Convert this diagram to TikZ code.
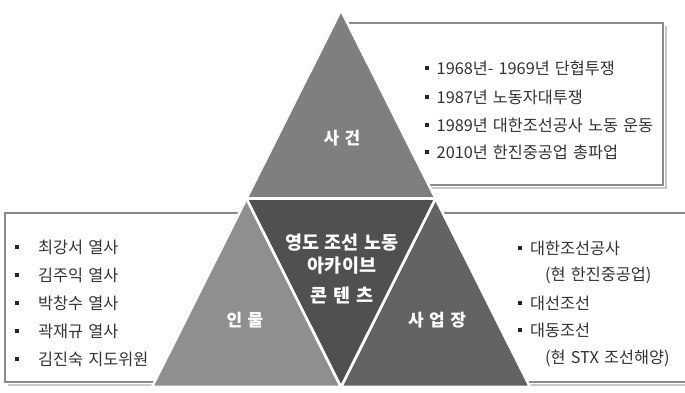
\documentclass[tikz,border=0pt]{standalone}
\usepackage{fontspec}
\newfontfamily\kr{Noto Sans CJK KR}[WordSpace=1.4]
\definecolor{boxline}{HTML}{8A8A8A}
\definecolor{boxshadow}{HTML}{C8C8C8}
\definecolor{toptri}{HTML}{7F7F7F}
\definecolor{lefttri}{HTML}{8F8F8F}
\definecolor{midtri}{HTML}{505050}
\definecolor{righttri}{HTML}{636363}
\definecolor{txt}{HTML}{333333}
\tikzset{
  infobox/.style={draw=boxline, line width=1.3pt, fill=white},
  shadowline/.style={draw=boxshadow, line width=1.5pt},
  tri/.style={draw=white, line width=2.6pt, line join=miter},
  item/.style={anchor=west, inner sep=0pt, text=txt, font=\kr\fontsize{16.3}{18}\selectfont},
  bul/.style={fill=black!85, minimum size=4.5pt, inner sep=0pt},
  lbl/.style={text=white, font=\kr\bfseries\fontsize{17}{19}\selectfont, inner sep=0pt},
  clbl/.style={text=white, font=\kr\bfseries\fontsize{18.5}{20}\selectfont, inner sep=0pt},
}
\begin{document}
\begin{tikzpicture}[x=1pt,y=-1pt]
\useasboundingbox (0,0) rectangle (685,393);
\clip (0,0) rectangle (685,393);
\fill[white] (0,0) rectangle (685,393);
% boxes with shadows
\draw[shadowline] (666,26) -- (666,188) -- (345,188);
\draw[infobox] (340,23) rectangle (663,185);
\draw[shadowline] (8,385) -- (340,385);
\draw[infobox] (5,213) rectangle (340,382);
\draw[shadowline] (345,385) -- (690,385);
\draw[infobox] (340,213) rectangle (695,382);
% triangle geometry
\coordinate (A) at (341,10);
\coordinate (BL) at (152,387);
\coordinate (BR) at (530,387);
\coordinate (ML) at (246.5,198.5);
\coordinate (MR) at (435.5,198.5);
\coordinate (MB) at (341,387);
\draw[tri, fill=toptri] (A) -- (MR) -- (ML) -- cycle;
\draw[tri, fill=lefttri] (ML) -- (MB) -- (BL) -- cycle;
\draw[tri, fill=righttri] (MR) -- (BR) -- (MB) -- cycle;
\draw[tri, fill=midtri] (ML) -- (MR) -- (MB) -- cycle;
% labels
\node[lbl] (l1) at (342,138) {사 건};
\node[lbl] (l2) at (245,320) {인 물};
\node[lbl] (l3) at (437,320) {사 업 장};
\node[clbl] (l4a) at (342,243) {영도 조선 노동};
\node[clbl] (l4b) at (342,266) {아카이브};
\node[clbl] (l4c) at (342,295) {콘 텐 츠};
% top box items
\node[bul] (b1) at (427,68) {};
\node[item] (t1) at (436.5,68) {1968년- 1969년 단협투쟁};
\node[bul] (b2) at (427,97) {};
\node[item] (t2) at (436.5,97) {1987년 노동자대투쟁};
\node[bul] (b3) at (427,125) {};
\node[item] (t3) at (436.5,125) {1989년 대한조선공사 노동 운동};
\node[bul] (b4) at (427,152) {};
\node[item] (t4) at (436.5,152) {2010년 한진중공업 총파업};
% left box items
\node[bul] (c1) at (17,247) {};
\node[item] (s1) at (38,247) {최강서 열사};
\node[bul] (c2) at (17,275) {};
\node[item] (s2) at (38,275) {김주익 열사};
\node[bul] (c3) at (17,303) {};
\node[item] (s3) at (38,303) {박창수 열사};
\node[bul] (c4) at (17,331) {};
\node[item] (s4) at (38,331) {곽재규 열사};
\node[bul] (c5) at (17,359) {};
\node[item] (s5) at (38,359) {김진숙 지도위원};
% right box items
\node[bul] (d1) at (520,248) {};
\node[item] (r1) at (530,248) {대한조선공사};
\node[item] (r2) at (545,275) {(현 한진중공업)};
\node[bul] (d3) at (520,303) {};
\node[item] (r3) at (530,303) {대선조선};
\node[bul] (d4) at (520,330) {};
\node[item] (r4) at (530,330) {대동조선};
\node[item] (r5) at (545,358) {(현 STX 조선해양)};
\end{tikzpicture}
\end{document}
